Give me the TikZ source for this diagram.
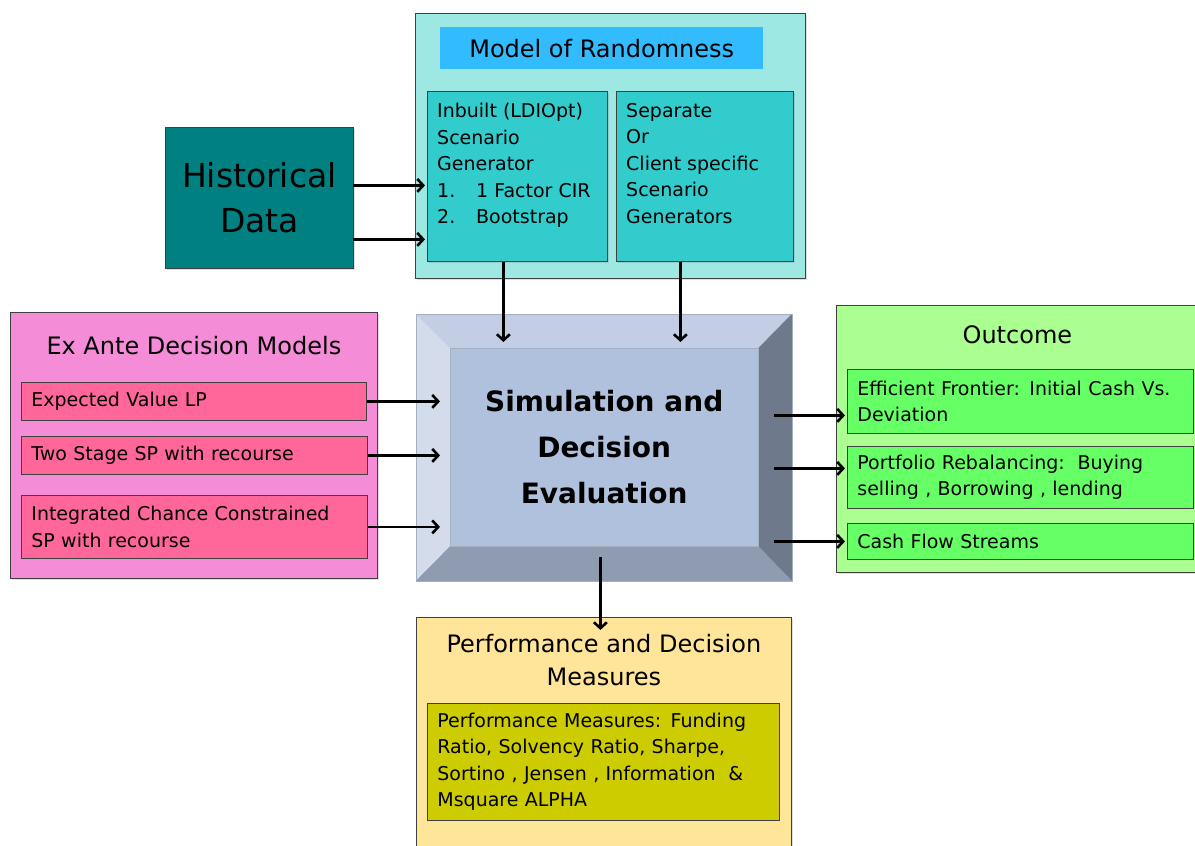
\documentclass[tikz,border=0pt]{standalone}
\usepackage{fontspec}
\setmainfont{DejaVu Sans}
\usetikzlibrary{arrows.meta,positioning,shadows}
\definecolor{histteal}{RGB}{0,128,128}
\definecolor{randaqua}{RGB}{158,232,228}
\definecolor{randblue}{RGB}{51,187,255}
\definecolor{randcyan}{RGB}{51,204,204}
\definecolor{antepink}{RGB}{245,140,216}
\definecolor{anterose}{RGB}{255,102,153}
\definecolor{simface}{RGB}{176,193,222}
\definecolor{simtop}{RGB}{195,206,228}
\definecolor{simleft}{RGB}{212,219,234}
\definecolor{simright}{RGB}{110,122,140}
\definecolor{simbottom}{RGB}{142,155,176}
\definecolor{outlime}{RGB}{170,255,144}
\definecolor{outgreen}{RGB}{102,255,102}
\definecolor{perfsand}{RGB}{255,229,153}
\definecolor{perfolive}{RGB}{204,204,0}
\definecolor{boxline}{RGB}{64,64,64}

\begin{document}
\begin{tikzpicture}[x=1pt, y=-1pt,
  panel/.style={draw=boxline, line width=0.8pt, anchor=north west, inner sep=0pt,
               drop shadow={opacity=0.25, shadow xshift=2pt, shadow yshift=-2pt}},
  item/.style={draw=boxline, line width=0.8pt, anchor=north west, inner xsep=10pt,
               inner ysep=0pt, align=left, font=\fontsize{19}{26.5}\selectfont},
  head/.style={font=\fontsize{24}{33}\selectfont, align=center, inner sep=0pt},
  body/.style={font=\fontsize{19}{26.5}\selectfont, align=left, anchor=north west, inner sep=0pt},
  arr/.style={-{Straight Barb[length=6pt, width=13pt]}, line width=2.6pt}]
\useasboundingbox (0,0) rectangle (1195,846);

% historical data
\node[panel, fill=histteal, minimum width=188pt, minimum height=141pt,
      font=\fontsize{33}{45}\selectfont, align=center] (hist) at (165,127) {Historical\\Data};

% model of randomness
\node[panel, fill=randaqua, minimum width=390pt, minimum height=265pt] (rand) at (415,13) {};
\node[anchor=north west, fill=randblue, minimum width=323pt, minimum height=42pt,
      head, inner sep=0pt] (randtitle) at (440,27) {Model of Randomness};
\node[panel, fill=randcyan, minimum width=180pt, minimum height=170pt] (gen1) at (427,91) {};
\node[panel, fill=randcyan, minimum width=177pt, minimum height=170pt] (gen2) at (616,91) {};
\node[body] at ([shift={(10pt,-12pt)}]gen1.north west)
  {Inbuilt (LDIOpt)\\Scenario\\Generator\\\makebox[39pt][l]{1.}1 Factor CIR\\\makebox[39pt][l]{2.}Bootstrap};
\node[body] at ([shift={(10pt,-12pt)}]gen2.north west)
  {Separate\\Or\\Client specific\\Scenario\\Generators};

% ex ante decision models
\node[panel, fill=antepink, minimum width=367pt, minimum height=266pt] (ante) at (10,312) {};
\node[head] at ([yshift=-34pt]ante.north) {Ex Ante Decision Models};
\node[item, fill=anterose, text width=325pt, minimum height=38pt] (ev) at (21,382) {Expected Value LP};
\node[item, fill=anterose, text width=326pt, minimum height=38pt] (two) at (21,436) {Two Stage SP with recourse};
\node[item, fill=anterose, text width=326pt, minimum height=63pt] (icc) at (21,495)
  {Integrated Chance Constrained\\SP with recourse};

% simulation block with bevelled rim
\node[panel, fill=simface, draw=simbottom, minimum width=375pt, minimum height=266pt] (sim) at (416,314) {};
\node[anchor=north west, fill=simface, inner sep=0pt, minimum width=308pt, minimum height=198pt,
      font=\fontsize{28}{46}\selectfont\bfseries, align=center] (simcore) at (450,348)
  {Simulation and\\Decision\\Evaluation};
\fill[simtop] (sim.north west) -- (sim.north east) -- (simcore.north east) -- (simcore.north west) -- cycle;
\fill[simleft] (sim.north west) -- (simcore.north west) -- (simcore.south west) -- (sim.south west) -- cycle;
\fill[simright] (sim.north east) -- (sim.south east) -- (simcore.south east) -- (simcore.north east) -- cycle;
\fill[simbottom] (sim.south west) -- (simcore.south west) -- (simcore.south east) -- (sim.south east) -- cycle;
\draw[simbottom!80, line width=0.6pt] (sim.north west) rectangle (sim.south east);
\draw[simbottom!80, line width=0.6pt] (simcore.north west) rectangle (simcore.south east);

% outcome
\node[panel, fill=outlime, minimum width=362pt, minimum height=267pt] (out) at (836,305) {};
\node[head] at ([yshift=-30pt]out.north) {Outcome};
\node[item, fill=outgreen, text width=326pt, minimum height=64pt] (eff) at (847,369)
  {Efficient Frontier: Initial Cash Vs.\\Deviation};
\node[item, fill=outgreen, text width=326pt, minimum height=62pt] (port) at (847,446)
  {Portfolio Rebalancing:\ \ Buying\\selling , Borrowing , lending};
\node[item, fill=outgreen, text width=326pt, minimum height=36pt] (cash) at (847,523) {Cash Flow Streams};

% performance measures
\node[panel, fill=perfsand, minimum width=375pt, minimum height=240pt] (perf) at (416,617) {};
\node[head] at ([yshift=-43.5pt]perf.north) {Performance and Decision\\Measures};
\node[item, fill=perfolive, text width=332pt, minimum height=117pt] (meas) at (427,703)
  {Performance Measures: Funding\\Ratio, Solvency Ratio, Sharpe,\\Sortino , Jensen , Information\ \ \&\\Msquare ALPHA};

% arrows
\coordinate (h1) at ([yshift=12.5pt]hist.east);
\coordinate (h2) at ([yshift=-41.5pt]hist.east);
\draw[arr, shorten <=-1pt, shorten >=2pt] (h1) -- (h1 -| gen1.west);
\draw[arr, shorten <=-1pt, shorten >=2pt] (h2) -- (h2 -| gen1.west);
\coordinate (g1) at ([xshift=-14pt]gen1.south);
\coordinate (g2) at ([xshift=-24.5pt]gen2.south);
\draw[arr, shorten >=6pt] (g1) -- (g1 |- simcore.north);
\draw[arr, shorten >=6pt] (g2) -- (g2 |- simcore.north);
\draw[arr, shorten >=10pt] (ev) -- (ev -| simcore.west);
\draw[arr, shorten >=10pt] (two) -- (two -| simcore.west);
\draw[arr, shorten >=10pt] (icc) -- (icc -| simcore.west);
\coordinate (o1) at ([yshift=-14pt]eff.west);
\coordinate (o2) at ([yshift=9pt]port.west);
\draw[arr, shorten <=-18pt, shorten >=2pt] (sim.east |- o1) -- (o1);
\draw[arr, shorten <=-18pt, shorten >=2pt] (sim.east |- o2) -- (o2);
\draw[arr, shorten <=-18pt, shorten >=2pt] (sim.east |- cash.west) -- (cash.west);
\coordinate (p1) at ([xshift=-3.5pt,yshift=-13pt]perf.north);
\draw[arr, shorten <=-24pt] (sim.south -| p1) -- (p1);
\end{tikzpicture}
\end{document}
